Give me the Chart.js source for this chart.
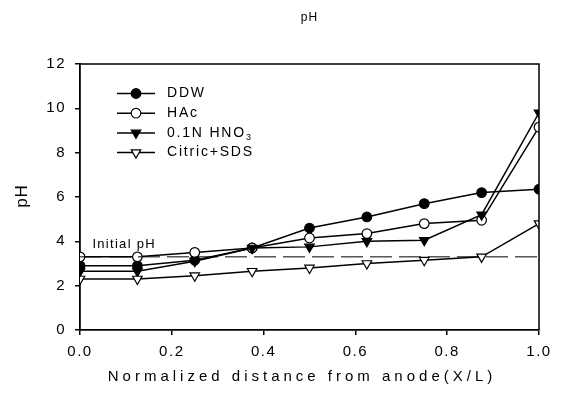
<!DOCTYPE html>
<html>
<head>
<meta charset="utf-8">
<script src="https://cdn.jsdelivr.net/npm/chart.js@4"></script>
<style>
body{margin:0;background:#fff;}
#wrap{width:564px;height:394px;}
</style>
</head>
<body>
<div id="wrap"><canvas id="phChart"></canvas></div>
<script>
// normalized positions and measured pH of each series
let xPos = [0, 0.125, 0.25, 0.375, 0.5, 0.625, 0.75, 0.875, 1.0];
let ddw = [2.9, 2.9, 3.15, 3.7, 4.6, 5.1, 5.7, 6.2, 6.35];
let hac = [3.3, 3.3, 3.5, 3.7, 4.15, 4.35, 4.8, 4.95, 9.15];
let hno3 = [2.65, 2.65, 3.1, 3.7, 3.75, 4.0, 4.05, 5.2, 9.8];
let citric = [2.3, 2.3, 2.45, 2.65, 2.8, 3.0, 3.15, 3.3, 4.8];
let initialPH = 3.3;
let xTicks = [0, 0.2, 0.4, 0.6, 0.8, 1.0];
let yTicks = [0, 2, 4, 6, 8, 10, 12];

let fontName = '"Liberation Sans", Arial, sans-serif';

function pts(vals){
return xPos.map((x, i) => ({x: x, y: vals[i]}));
}

function series(label, vals, fill, shape, r){
return {
label: label,
data: pts(vals),
borderColor: '#000',
borderWidth: 1.5,
backgroundColor: fill,
pointBackgroundColor: fill,
pointBorderColor: '#000',
pointBorderWidth: 1.2,
pointStyle: shape,
pointRotation: shape == 'triangle' ? 180 : 0,
pointRadius: r,
tension: 0
};
}

let datasets = [
{
label: 'initial',
data: [{x: 0, y: initialPH}, {x: 1, y: initialPH}],
borderColor: '#000',
borderWidth: 1,
borderDash: [22, 7],
pointRadius: 0
},
series('Citric+SDS', citric, '#fff', 'triangle', 5.5),
series('0.1N HNO3', hno3, '#000', 'triangle', 5.5),
series('HAc', hac, '#fff', 'circle', 4.8),
series('DDW', ddw, '#000', 'circle', 4.8)
];

let legendItems = [
{text: 'DDW', fill: '#000', shape: 'circle', r: 4.8},
{text: 'HAc', fill: '#fff', shape: 'circle', r: 4.8},
{text: '0.1N HNO', sub: '3', fill: '#000', shape: 'triangle', r: 5.5},
{text: 'Citric+SDS', fill: '#fff', shape: 'triangle', r: 5.5}
];

let spacingPlugin = {
id: 'spacing',
beforeDraw(chart){
chart.ctx.letterSpacing = '1.5px';
}
};

let extras = {
id: 'extras',
afterDraw(chart){
let ctx = chart.ctx;
let a = chart.chartArea;
let xs = chart.scales.x;
let ys = chart.scales.y;
ctx.save();
ctx.strokeStyle = '#000';
ctx.lineWidth = 1.5;
ctx.beginPath();
ctx.moveTo(a.left, a.top);
ctx.lineTo(a.right, a.top);
ctx.lineTo(a.right, a.bottom);
ctx.stroke();

ctx.fillStyle = '#000';
ctx.textBaseline = 'middle';

// top title
ctx.font = '12px ' + fontName;
ctx.letterSpacing = '1px';
ctx.textAlign = 'center';
ctx.fillText('pH', (a.left + a.right) / 2, 18);

// x title
ctx.font = '15px ' + fontName;
ctx.letterSpacing = '4px';
ctx.fillText('Normalized distance from anode(X/L)', 302, 377);

// y title
ctx.save();
ctx.translate(22, 196);
ctx.rotate(-Math.PI / 2);
ctx.font = '17px ' + fontName;
ctx.letterSpacing = '1px';
ctx.fillText('pH', 0, 0);
ctx.restore();

// initial pH label
ctx.font = '13px ' + fontName;
ctx.letterSpacing = '1.3px';
ctx.textAlign = 'left';
ctx.fillText('Initial pH', xs.getPixelForValue(0.027), ys.getPixelForValue(initialPH) - 12);

// legend
ctx.font = '14px ' + fontName;
ctx.letterSpacing = '1.8px';
legendItems.forEach((it, i) => {
let y = 93.5 + i * 19.7;
ctx.strokeStyle = '#000';
ctx.lineWidth = 1.5;
ctx.beginPath();
ctx.moveTo(117, y);
ctx.lineTo(155, y);
ctx.stroke();
ctx.fillStyle = it.fill;
ctx.lineWidth = 1.2;
Chart.helpers.drawPoint(ctx, {
pointStyle: it.shape,
rotation: it.shape == 'triangle' ? 180 : 0,
radius: it.r,
borderWidth: 1.2
}, 136, y);
ctx.fillStyle = '#000';
ctx.fillText(it.text, 167, y);
if(it.sub){
let w = ctx.measureText(it.text).width;
ctx.font = '9px ' + fontName;
ctx.fillText(it.sub, 167 + w, y + 5);
ctx.font = '14px ' + fontName;
}
});
ctx.restore();
}
};

new Chart(document.getElementById('phChart'), {
type: 'line',
data: {datasets: datasets},
options: {
responsive: true,
maintainAspectRatio: false,
animation: false,
layout: {padding: {left: 0, right: 25, top: 64, bottom: 0}},
plugins: {
legend: {display: false},
tooltip: {enabled: false}
},
scales: {
x: {
type: 'linear',
min: 0,
max: 1,
afterBuildTicks: s => { s.ticks = xTicks.map(v => ({value: v})); },
afterFit: s => { s.height = 64; },
ticks: {
color: '#000',
padding: 8,
font: {family: fontName, size: 15},
callback: v => v.toFixed(1)
},
grid: {display: true, drawOnChartArea: false, drawTicks: true, tickLength: 5, color: '#000', lineWidth: 1.5},
border: {display: true, color: '#000', width: 1.8}
},
y: {
min: 0,
max: 12,
afterBuildTicks: s => { s.ticks = yTicks.map(v => ({value: v})); },
afterFit: s => { s.width = 80; },
ticks: {
color: '#000',
padding: 9,
font: {family: fontName, size: 15}
},
grid: {display: true, drawOnChartArea: false, drawTicks: true, tickLength: 5, color: '#000', lineWidth: 1.5},
border: {display: true, color: '#000', width: 1.8}
}
}
},
plugins: [spacingPlugin, extras]
});
</script>
</body>
</html>
